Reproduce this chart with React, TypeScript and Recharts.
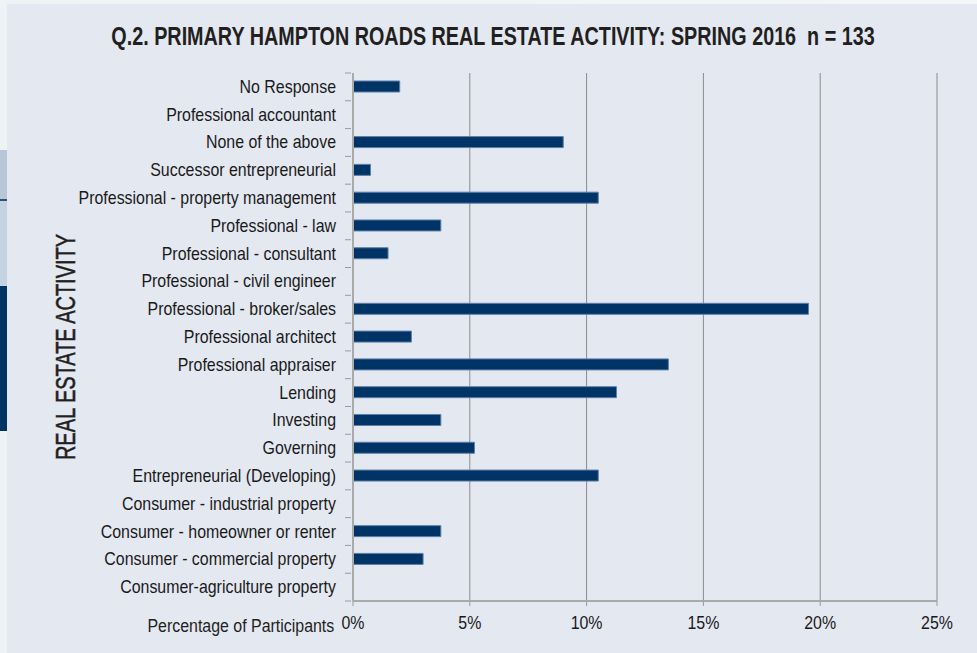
import { Bar, BarChart, CartesianGrid, XAxis, YAxis } from "recharts";

const categories = [
  "No Response",
  "Professional accountant",
  "None of the above",
  "Successor entrepreneurial",
  "Professional - property management",
  "Professional - law",
  "Professional - consultant",
  "Professional - civil engineer",
  "Professional - broker/sales",
  "Professional architect",
  "Professional appraiser",
  "Lending",
  "Investing",
  "Governing",
  "Entrepreneurial (Developing)",
  "Consumer - industrial property",
  "Consumer - homeowner or renter",
  "Consumer - commercial property",
  "Consumer-agriculture property",
];

const percentages = [
  2.0, 0, 9.0, 0.75, 10.5, 3.76, 1.5, 0, 19.5, 2.5, 13.5, 11.28, 3.76, 5.2, 10.5, 0, 3.76,
  3.0, 0,
];

const xTicks = [0, 5, 10, 15, 20, 25];

const data = categories.map((name, i) => ({ name, value: percentages[i] }));

const FONT = '"Liberation Sans", Arial, sans-serif';
const NARROW = 0.91;
const PLOT_TOP = 73;
const PLOT_BOTTOM = 601;
const BAND = (PLOT_BOTTOM - PLOT_TOP) / categories.length;

function CategoryTick(props: any) {
  const { x, y, payload, index } = props;
  const axisX = x + 6;
  return (
    <g>
      <line x1={axisX - 6} x2={axisX} y1={y - BAND / 2} y2={y - BAND / 2} stroke="#9a9a9a" />
      {index === categories.length - 1 && (
        <line x1={axisX - 6} x2={axisX} y1={y + BAND / 2} y2={y + BAND / 2} stroke="#9a9a9a" />
      )}
      <text
        transform={`translate(${x - 9},${y}) scale(${NARROW},1)`}
        dy={6}
        textAnchor="end"
        fontFamily={FONT}
        fontSize={17.5}
        fill="#1a1a1a"
      >
        {payload.value}
      </text>
    </g>
  );
}

function PercentTick(props: any) {
  const { x, y, payload } = props;
  return (
    <text
      transform={`translate(${x},${y + 21}) scale(${NARROW},1)`}
      textAnchor="middle"
      fontFamily={FONT}
      fontSize={17.5}
      fill="#1a1a1a"
    >
      {`${payload.value}%`}
    </text>
  );
}

export default function App() {
  return (
    <div
      style={{
        position: "absolute",
        left: 0,
        top: 0,
        width: 977,
        height: 653,
        background: "linear-gradient(90deg, #eef3f6 0%, #f4f6f8 100%)",
        overflow: "hidden",
      }}
    >
      <div style={{ position: "absolute", left: 0, top: 150, width: 7, height: 50, background: "#b8c7d8" }} />
      <div style={{ position: "absolute", left: 0, top: 199, width: 7, height: 2, background: "#2a5382" }} />
      <div style={{ position: "absolute", left: 0, top: 201, width: 7, height: 85, background: "#c3d3e2" }} />
      <div style={{ position: "absolute", left: 0, top: 286, width: 7, height: 145, background: "#003366" }} />
      <div
        style={{
          position: "absolute",
          left: 7,
          top: 4,
          width: 970,
          height: 649,
          background: "#e4e8f1",
        }}
      />
      <div
        style={{
          position: "absolute",
          left: 493,
          top: 21,
          transform: "translateX(-50%) scaleX(0.76)",
          fontFamily: FONT,
          fontWeight: "bold",
          fontSize: 26,
          color: "#231f20",
          whiteSpace: "pre",
        }}
      >
        {"Q.2. PRIMARY HAMPTON ROADS REAL ESTATE ACTIVITY: SPRING 2016  n = 133"}
      </div>
      <div
        style={{
          position: "absolute",
          left: 66,
          top: 347,
          transform: "translate(-50%, -50%) rotate(-90deg) scaleX(0.74)",
          fontFamily: FONT,
          fontSize: 27,
          color: "#231f20",
          WebkitTextStroke: "0.5px #231f20",
          whiteSpace: "nowrap",
        }}
      >
        REAL ESTATE ACTIVITY
      </div>
      <div
        style={{
          position: "absolute",
          right: 977 - 334,
          top: 616,
          transform: `scaleX(${NARROW})`,
          transformOrigin: "right center",
          fontFamily: FONT,
          fontSize: 17.5,
          color: "#231f20",
          whiteSpace: "nowrap",
        }}
      >
        Percentage of Participants
      </div>
      <div style={{ position: "absolute", left: 0, top: 0 }}>
        <BarChart
          width={977}
          height={653}
          data={data}
          layout="vertical"
          margin={{ top: PLOT_TOP, right: 40, bottom: 653 - PLOT_BOTTOM - 30, left: 0 }}
          barCategoryGap={0}
        >
          <CartesianGrid
            horizontal={false}
            vertical
            stroke="#8c8c8c"
            verticalCoordinatesGenerator={({ offset }: any) =>
              xTicks.slice(1).map((t) => offset.left + (offset.width * t) / 25)
            }
          />
          <XAxis
            type="number"
            domain={[0, 25]}
            ticks={xTicks}
            axisLine={{ stroke: "#aaaaaa", strokeWidth: 2 }}
            tickLine={{ stroke: "#9a9a9a" }}
            tickSize={5}
            tick={<PercentTick />}
            height={30}
          />
          <YAxis
            type="category"
            dataKey="name"
            width={353}
            axisLine={{ stroke: "#aaaaaa", strokeWidth: 2 }}
            tickLine={false}
            tick={<CategoryTick />}
            interval={0}
          />
          <Bar
            dataKey="value"
            fill="#003366"
            stroke="#5d7fa6"
            strokeWidth={1}
            barSize={11}
            isAnimationActive={false}
          />
        </BarChart>
      </div>
    </div>
  );
}
